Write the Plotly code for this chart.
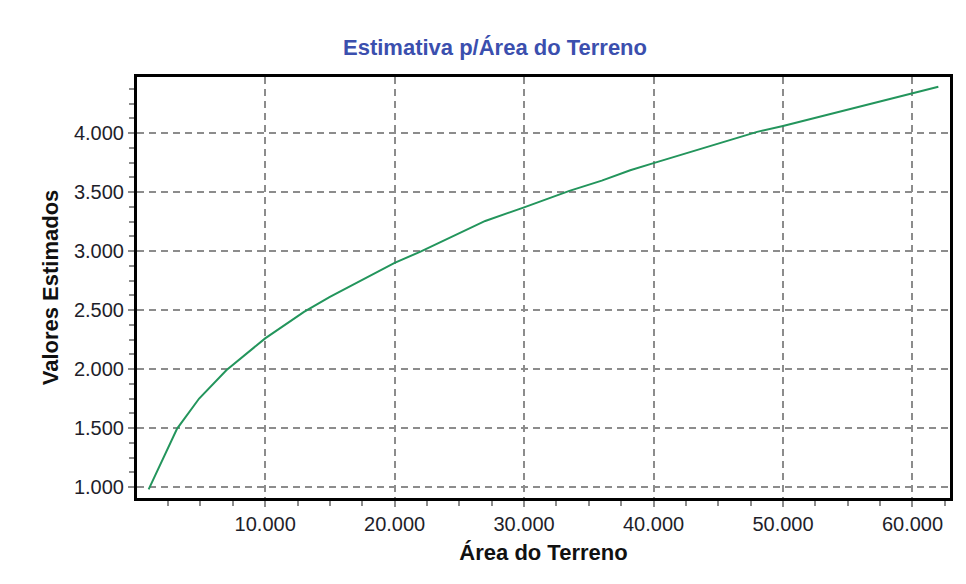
import plotly.graph_objects as go

# area of the lot vs estimated value
area = [1000, 3200, 4900, 7000, 10000, 13000, 15000, 20000, 22000, 27000, 30000,
        33500, 36000, 38200, 40000, 44000, 48000, 50000, 55000, 60000, 62000]
valores = [980, 1495, 1750, 1990, 2260, 2485, 2612, 2900, 2995, 3255, 3370,
           3510, 3597, 3685, 3745, 3875, 4010, 4060, 4197, 4335, 4392]

x_ticks = [10000, 20000, 30000, 40000, 50000, 60000]
y_ticks = [1000, 1500, 2000, 2500, 3000, 3500, 4000]

grid_col = '#8c8c8c'
label_font = dict(family='Liberation Sans, Arial, sans-serif', size=20, color='#1e1e2a')
title_font = dict(family='Liberation Sans, Arial, sans-serif', size=22, color='#111111')

fig = go.Figure()
fig.add_trace(go.Scatter(x=area, y=valores, mode='lines',
                         line=dict(color='#23955c', width=2), showlegend=False))

# page body has an 8px margin, so the margins are shifted to compensate
fig.update_layout(
    width=966, height=584,
    margin=dict(l=129, r=24, t=69, b=94),
    paper_bgcolor='white', plot_bgcolor='white',
    separators=',.',
    title=dict(text='<b>Estimativa p/Área do Terreno</b>',
               x=487 / 966, xref='container', xanchor='center',
               y=1 - 39 / 584, yref='container', yanchor='middle',
               font=dict(family='Liberation Sans, Arial, sans-serif', size=22, color='#3b4fae')),
)

fig.update_xaxes(
    range=[100, 62900], tickvals=x_ticks, tickformat=',d',
    showgrid=True, gridcolor=grid_col, gridwidth=1.5, griddash='7px,5px',
    showline=True, linecolor='black', linewidth=3, mirror=True,
    ticks='outside', ticklen=6, tickcolor=grid_col, tickwidth=1.5,
    minor=dict(dtick=2500, ticks='outside', ticklen=5, tickcolor=grid_col, showgrid=False),
    tickfont=label_font, zeroline=False,
    title=dict(text='<b>Área do Terreno</b>', font=title_font, standoff=11),
)
fig.update_yaxes(
    range=[907, 4475], tickvals=y_ticks, tickformat=',d',
    showgrid=True, gridcolor=grid_col, gridwidth=1.5, griddash='7px,5px',
    showline=True, linecolor='black', linewidth=3, mirror=True,
    ticks='outside', ticklen=6, tickcolor=grid_col, tickwidth=1.5,
    minor=dict(dtick=125, ticks='outside', ticklen=5, tickcolor=grid_col, showgrid=False),
    tickfont=label_font, zeroline=False,
    title=dict(text='<b>Valores Estimados</b>', font=title_font, standoff=10),
)

fig.write_html('out.html')
